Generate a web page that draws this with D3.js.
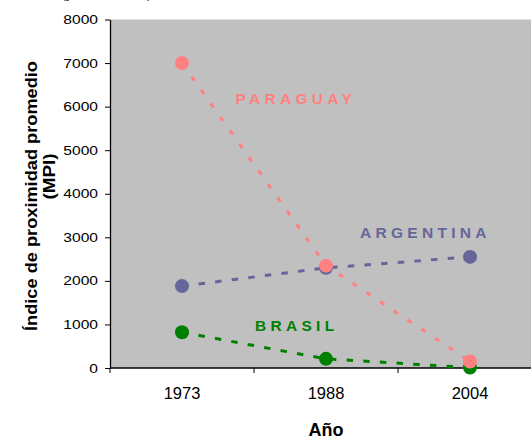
<!DOCTYPE html>
<html>
<head>
<meta charset="utf-8">
<script src="https://cdn.jsdelivr.net/npm/d3@7"></script>
<style>
  body { margin: 0; background: #fff; }
  svg { display: block; }
</style>
</head>
<body>
<svg id="chart" width="531" height="439"></svg>
<script>
// data
const years = ["1973", "1988", "2004"];
const paraguay = [7000, 2350, 150];
const argentina = [1880, 2300, 2550];
const brasil = [820, 210, 10];
const yTickValues = [0, 1000, 2000, 3000, 4000, 5000, 6000, 7000, 8000];

const series = [
  {name: "ARGENTINA", values: argentina, color: "#666699", dash: "6.5,10.2"},
  {name: "BRASIL", values: brasil, color: "#008000", dash: "6.5,10.2"},
  {name: "PARAGUAY", values: paraguay, color: "#FF8080", dash: "5,11.5"}
];

let width = 531, height = 439,
  margin = {top: 19.5, left: 110, bottom: 71};

let svg = d3.select('#chart');

let xScale = d3.scaleBand()
  .domain(years)
  .range([margin.left, margin.left + 3 * 144]);
let yScale = d3.scaleLinear()
  .domain([0, 8000])
  .range([height - margin.bottom, margin.top]);

// cut-off caption line from above the chart (only descenders show)
svg.append('text')
  .attr('x', 63)
  .attr('y', -1.8)
  .style('font-family', '"Liberation Serif", serif')
  .attr('font-size', 14)
  .attr('fill', '#000')
  .text('gráfico del año)');

// plot area
svg.append('rect')
  .attr('x', margin.left)
  .attr('y', yScale(8000))
  .attr('width', width - margin.left)
  .attr('height', yScale(0) - yScale(8000))
  .style('fill', '#C0C0C0');

// y axis
let gY = svg.append('g')
  .attr('transform', 'translate(' + margin.left + ',0)')
  .call(d3.axisLeft(yScale).tickValues(yTickValues).tickSize(5).tickSizeOuter(0).tickFormat(d3.format('d')));
gY.select('.domain').attr('stroke', '#000').attr('stroke-width', 1.3);
gY.selectAll('.tick line').attr('stroke', '#000');
gY.selectAll('.tick text')
  .attr('x', 0)
  .attr('transform', 'translate(-12,0) scale(1.22,1)')
  .style('font-family', '"Liberation Sans", Arial, sans-serif')
  .attr('font-size', 12.8)
  .attr('fill', '#000');

// x axis: labels centred in bands, ticks between them
let gX = svg.append('g')
  .attr('transform', 'translate(0,' + yScale(0) + ')')
  .call(d3.axisBottom(xScale).tickSize(0).tickPadding(19.5));
gX.select('.domain').remove();
gX.selectAll('.tick text')
  .style('font-family', '"Liberation Sans", Arial, sans-serif')
  .attr('font-size', 16.5)
  .attr('fill', '#000');

svg.append('line')
  .attr('x1', margin.left).attr('x2', width)
  .attr('y1', yScale(0)).attr('y2', yScale(0))
  .attr('stroke', '#000').attr('stroke-width', 1.3);
svg.selectAll('.xtick')
  .data(years)
  .enter()
  .append('line')
    .attr('class', 'xtick')
    .attr('x1', d => xScale(d)).attr('x2', d => xScale(d))
    .attr('y1', yScale(0)).attr('y2', yScale(0) + 5)
    .attr('stroke', '#000');

// axis titles
svg.append('text')
  .attr('x', xScale('1988') + xScale.bandwidth() / 2)
  .attr('y', 435.5)
  .attr('text-anchor', 'middle')
  .style('font-family', '"Liberation Sans", Arial, sans-serif')
  .attr('font-weight', 'bold')
  .attr('font-size', 18)
  .attr('fill', '#000')
  .text('Año');

svg.append('text')
  .attr('transform', 'translate(37,196) rotate(-90)')
  .attr('text-anchor', 'middle')
  .style('font-family', '"Liberation Sans", Arial, sans-serif')
  .attr('font-weight', 'bold')
  .attr('font-size', 16)
  .attr('textLength', 270)
  .attr('lengthAdjust', 'spacingAndGlyphs')
  .attr('fill', '#000')
  .text('Índice de proximidad promedio');

svg.append('text')
  .attr('transform', 'translate(55,176.5) rotate(-90)')
  .attr('text-anchor', 'middle')
  .style('font-family', '"Liberation Sans", Arial, sans-serif')
  .attr('font-weight', 'bold')
  .attr('font-size', 16)
  .attr('textLength', 46)
  .attr('lengthAdjust', 'spacingAndGlyphs')
  .attr('fill', '#000')
  .text('(MPI)');

// series lines, then markers
let line = d3.line()
  .x((d, i) => xScale(years[i]) + xScale.bandwidth() / 2)
  .y(d => yScale(d));

series.forEach(s => {
  svg.append('path')
    .datum(s.values)
    .attr('d', line)
    .style('fill', 'none')
    .attr('stroke', s.color)
    .attr('stroke-width', 3)
    .attr('stroke-dasharray', s.dash);

  svg.selectAll('.dot-' + s.name)
    .data(s.values)
    .enter()
    .append('circle')
      .attr('cx', (d, i) => xScale(years[i]) + xScale.bandwidth() / 2)
      .attr('cy', d => yScale(d))
      .attr('r', 7)
      .style('fill', s.color);
});

// series names inside the plot
let labelPos = {PARAGUAY: [235.5, 104], ARGENTINA: [360, 237.5], BRASIL: [255, 331]};
series.forEach(s => {
  svg.append('text')
    .attr('x', labelPos[s.name][0])
    .attr('y', labelPos[s.name][1])
    .style('font-family', '"Liberation Sans", Arial, sans-serif')
    .attr('font-weight', 'bold')
    .attr('font-size', 15.5)
    .style('letter-spacing', '4.3px')
    .attr('fill', s.color)
    .text(s.name);
});
</script>
</body>
</html>
